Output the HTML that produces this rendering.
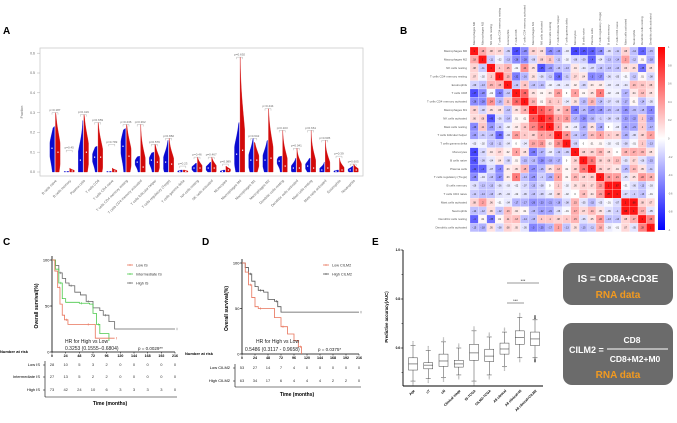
<!DOCTYPE html>
<html><head><meta charset="utf-8"><style>
html,body{margin:0;padding:0;background:#fff;width:677px;height:423px;overflow:hidden}
svg{display:block;font-family:"Liberation Sans",Arial,sans-serif}
</style></head><body>
<svg id="fig" width="677" height="423" viewBox="0 0 677 423">
<g id="panelA"></g>
<g id="panelB"></g>
<g id="panelC"></g>
<g id="panelD"></g>
<g id="panelE"></g>
<g>
<rect x="563" y="263" width="110" height="42" rx="9" fill="#6b6b6b"/>
<text x="618" y="282" text-anchor="middle" font-size="10" font-weight="bold" fill="#fff">IS = CD8A+CD3E</text>
<text x="618" y="298" text-anchor="middle" font-size="10" font-weight="bold" fill="#f39a1e">RNA data</text>
</g>
<g>
<rect x="563" y="323" width="110" height="62" rx="9" fill="#6b6b6b"/>
<text x="569" y="353" font-size="9" font-weight="bold" fill="#fff">CILM2 =</text>
<text x="632" y="343" text-anchor="middle" font-size="8.5" font-weight="bold" fill="#fff">CD8</text>
<line x1="607" y1="349" x2="668" y2="349" stroke="#fff" stroke-width="1"/>
<text x="635" y="362" text-anchor="middle" font-size="8.5" font-weight="bold" fill="#fff">CD8+M2+M0</text>
<text x="618" y="378" text-anchor="middle" font-size="10" font-weight="bold" fill="#f39a1e">RNA data</text>
</g>
<text x="3" y="34" font-size="10" font-weight="bold">A</text>
<text x="400" y="34" font-size="10" font-weight="bold">B</text>
<text x="3" y="245" font-size="10" font-weight="bold">C</text>
<text x="202" y="245" font-size="10" font-weight="bold">D</text>
<text x="372" y="245" font-size="10" font-weight="bold">E</text>
</svg>
<script>
const NS="http://www.w3.org/2000/svg";
// ---- Panel A data ----
const cellTypes=["B cells naive","B cells memory","Plasma cells","T cells CD8","T cells CD4 naive","T cells CD4 memory resting","T cells CD4 memory activated","T cells follicular helper","T cells regulatory (Tregs)","T cells gamma delta","NK cells resting","NK cells activated","Monocytes","Macrophages M0","Macrophages M1","Macrophages M2","Dendritic cells resting","Dendritic cells activated","Mast cells resting","Mast cells activated","Eosinophils","Neutrophils"];
const blueMax=[0.23,0.003,0.26,0.13,0.003,0.22,0.08,0.10,0.16,0.01,0.045,0.05,0.01,0.25,0.17,0.16,0.08,0.07,0.07,0.05,0.01,0.03];
const blueMed=[0.12,0.001,0.06,0.075,0.001,0.13,0.05,0.06,0.05,0.003,0.02,0.02,0.003,0.09,0.06,0.06,0.055,0.02,0.03,0.01,0.003,0.01];
const redMax=[0.30,0.02,0.29,0.25,0.02,0.24,0.24,0.14,0.17,0.01,0.075,0.075,0.03,0.58,0.15,0.32,0.21,0.12,0.21,0.16,0.07,0.04];
const redMed=[0.10,0.005,0.10,0.075,0.005,0.08,0.025,0.05,0.04,0.003,0.02,0.02,0.01,0.11,0.06,0.07,0.03,0.02,0.02,0.02,0.01,0.01];
const pLabels=["p=0.187","p=0.45","p=0.419","p=0.659","p=0.799","p=0.236","p=0.362","p=0.579","p=0.882","p=0.23","p=0.46","p=0.467","p=0.089","p=0.692","p=0.642","p=0.444","p=0.103","p=0.041","p=0.661","p=0.605","p=0.39","p=0.605"];
const bracketTop=[0.30,0.11,0.29,0.25,0.14,0.24,0.24,0.14,0.17,0.03,0.075,0.075,0.04,0.58,0.17,0.32,0.21,0.12,0.21,0.16,0.08,0.04];
const aTicks=[0,0.1,0.2,0.3,0.4,0.5,0.6];
// ---- Panel B data (upper triangle, row i lists cols i+1..21) ----
const hmLabels=["Macrophages M0","Macrophages M2","NK cells resting","T cells CD4 memory resting","Eosinophils","T cells CD8","T cells CD4 memory activated","Macrophages M1","NK cells activated","Mast cells resting","T cells follicular helper","T cells gamma delta","Monocytes","B cells naive","Plasma cells","T cells regulatory (Tregs)","B cells memory","T cells CD4 naive","Mast cells activated","Neutrophils","Dendritic cells resting","Dendritic cells activated"];
const hmUpper=[
[.18,.08,.07,-.09,-.47,-.28,.08,.06,-.29,-.23,-.03,-.49,-.45,-.42,-.28,-.06,-.11,.08,-.14,-.4,-.15],
[-.11,-.02,-.13,-.28,-.28,-.08,.08,.11,-.11,-.02,-.08,-.09,-.4,-.04,-.13,-.14,.2,-.12,.01,-.18],
[.1,.15,-.01,.24,.05,-.45,-.24,-.13,-.13,.04,-.04,-.07,-.13,-.13,-.13,.06,.06,-.35,.05],
[.15,-.32,-.16,.05,-.06,-.11,-.38,-.11,.07,.04,-.3,-.27,-.06,-.05,-.01,-.12,.01,-.08],
[-.12,.11,-.13,-.14,-.02,-.04,-.04,.02,-.08,.03,.03,-.03,-.04,-.04,.13,.11,.08],
[.36,.05,.01,.03,.21,0,.2,.01,.05,.3,-.02,-.02,-.17,.04,.13,.05],
[.16,.01,.11,.1,-.04,.05,-.15,.15,-.14,-.07,-.06,-.17,.01,-.14,-.05],
[.4,.27,.08,.19,-.33,-.15,-.27,-.25,-.15,-.13,-.26,-.15,-.15,-.3],
[.45,.2,.22,-.17,-.28,-.16,-.1,-.08,-.08,-.23,-.22,.1,-.25],
[.2,.03,-.03,-.19,.05,-.19,0,-.03,-.21,-.21,.1,-.17],
[.25,-.12,-.17,.13,.2,.1,.08,-.18,-.06,.08,.2],
[-.09,0,.01,.01,-.02,-.02,-.08,-.01,.1,-.13],
[.08,.08,.15,.05,0,.15,.17,.15,.05],
[.31,.08,.08,.13,-.05,.07,-.06,-.15],
[.09,.07,.04,-.15,.14,.05,-.11],
[.22,.21,-.05,.05,.22,.16],
[.87,-.01,-.06,-.13,-.03],
[-.07,-.1,-.13,-.01],
[.68,.08,.07],
[.17,-.05],
[.28]];
const cbTicks=[1,0.8,0.6,0.4,0.2,0,-0.2,-0.4,-0.6,-0.8,-1];
// ---- Panel C data ----
const kmTicks=[0,24,48,72,96,120,144,168,192,216];
const lowIST=[0,5,10,14,18,22,28,40,60,72,76,110];
const lowISS=[100,88,70,52,40,35,30,30,30,30,15,15];
const intIST=[0,6,12,18,24,48,66,72,78,84,100];
const intISS=[100,90,75,58,54,53,52,42,30,20,12];
const highIST=[0,6,12,18,24,30,40,50,60,72,84,90,100,110,216];
const highISS=[100,94,86,80,75,72,65,62,55,48,45,40,33,25,25];
const riskCLow=[28,10,5,3,2,0,0,0,0,0];
const riskCInt=[27,13,5,2,2,0,0,0,0,0];
const riskCHigh=[73,42,24,10,6,3,3,3,3,0];
// ---- Panel D data ----
const lowCT=[0,6,12,18,24,30,48,60,72,84,96,104,110];
const lowCS=[100,90,76,62,52,50,50,40,30,22,15,8,0];
const highCT=[0,6,12,18,24,30,40,48,60,66,72,216];
const highCS=[100,95,88,80,74,70,68,60,58,52,46,46];
const riskDLow=[53,27,14,7,4,0,0,0,0,0];
const riskDHigh=[63,34,17,6,4,4,4,2,2,0];
// ---- Panel E data ----
const eCats=["Age","cT","cN","Clinical stage","IS-TCGA","CILM2-TCGA","All clinical","All clinical+IS","All clinical+CILM2"];
const eMed=[0.535,0.53,0.547,0.535,0.58,0.567,0.596,0.642,0.637];
const eQ1=[0.51,0.515,0.525,0.522,0.55,0.545,0.575,0.615,0.61];
const eQ3=[0.56,0.54,0.575,0.55,0.615,0.595,0.62,0.67,0.665];
const eMin=[0.465,0.475,0.48,0.49,0.465,0.49,0.525,0.56,0.56];
const eMax=[0.61,0.59,0.625,0.6,0.67,0.645,0.665,0.725,0.715];
const eTicks=[0.6,0.8,1.0];

function el(tag,attrs,parent,text){const e=document.createElementNS(NS,tag);for(const k in attrs)e.setAttribute(k,attrs[k]);if(text!==undefined)e.textContent=text;parent.appendChild(e);return e;}

// ===== Panel A =====
(function(){
const g=document.getElementById('panelA');
const x0=55,dx=14.2,y0=172,ky=198;
const yA=v=>y0-v*ky, xA=i=>x0+i*dx;
const frame=el('rect',{x:40,y:48,width:323,height:128,fill:'none',stroke:'#ccc','stroke-width':0.8},g);

aTicks.forEach(t=>{const tx=el('text',{x:35,y:yA(t)+1.2,'font-size':3.5,fill:'#666','text-anchor':'end'},g,t.toFixed(1));

el('line',{x1:37,x2:40,y1:yA(t),y2:yA(t),stroke:'#999','stroke-width':0.4},g);});
const yt=el('text',{x:23,y:112,'font-size':3.5,fill:'#666','text-anchor':'middle',transform:'rotate(-90 23 112)'},g,'Fraction');

function violin(cx,max,med,dir,color){
 const W=4.6,s=Math.max(max*0.42,0.006);const N=30;let pts=[];
 for(let k=0;k<=N;k++){const v=max*k/N;let w=W*Math.exp(-Math.pow((v-med)/s,2))+1.2*(1-k/N);if(w>W)w=W;if(k==N)w=0.2;pts.push([cx+dir*w,yA(v)]);}
 let d=`M${cx},${yA(0)} `+pts.map(p=>`L${p[0].toFixed(2)},${p[1].toFixed(2)}`).join(' ')+` L${cx},${yA(max)} Z`;
 const p=el('path',{d:d,fill:color,stroke:color,'stroke-width':0.3},g);
 return p;}
cellTypes.forEach((name,i)=>{
 const c=xA(i);
 const pb=violin(c-0.5,blueMax[i],blueMed[i],-1,'#0a0ad0');
 const pr=violin(c+0.5,redMax[i],redMed[i],1,'#d20a0a');
 el('rect',{x:c-3.6,y:yA(blueMed[i])-0.6,width:1.2,height:1.2,fill:'#fff'},g);
 el('rect',{x:c+2.4,y:yA(redMed[i])-0.6,width:1.2,height:1.2,fill:'#fff'},g);
 const bt=yA(bracketTop[i]);
 el('path',{d:`M${c-3},${bt+2} L${c-3},${bt} L${c+3},${bt} L${c+3},${bt+2}`,fill:'none',stroke:'#999','stroke-width':0.35},g);
 const pt=el('text',{x:c,y:bt-1.5,'font-size':3,fill:'#666','text-anchor':'middle'},g,pLabels[i]);
 
 const lt=el('text',{x:c+2,y:181,'font-size':3.5,fill:'#666','text-anchor':'end',transform:`rotate(-45 ${c+2} 181)`},g,name);
 
});
})();

// ===== Panel B =====
(function(){
const g=document.getElementById('panelB');
const gx=470,gy=47,cs=8.4,n=hmLabels.length;
function val(i,j){if(i==j)return 1;const a=Math.min(i,j),b=Math.max(i,j);return hmUpper[a][b-a-1];}
function col(v){const t=Math.pow(Math.min(1,Math.abs(v)*1.7),0.85);let r,gg,b;if(v>=0){r=255;gg=255*(1-t)+20*t;b=255*(1-t)+20*t;}else{r=255*(1-t)+40*t;gg=255*(1-t)+40*t;b=255;}return `rgb(${r|0},${gg|0},${b|0})`;}
for(let i=0;i<n;i++){
 const rl=el('text',{x:gx-3,y:gy+i*cs+cs/2+1,'font-size':3,fill:'#555','text-anchor':'end'},g,hmLabels[i]);
 
 const cx=gx+i*cs+cs/2+1;
 const cl=el('text',{x:cx,y:gy-2,'font-size':3,fill:'#555',transform:`rotate(-90 ${cx} ${gy-2})`},g,hmLabels[i]);
 
 for(let j=0;j<n;j++){const v=val(i,j);
  const r=el('rect',{x:gx+j*cs,y:gy+i*cs,width:cs,height:cs,fill:col(v),stroke:'#fff','stroke-width':0.2},g);
  
  el('text',{x:gx+j*cs+cs/2,y:gy+i*cs+cs/2+1,'font-size':2.4,fill:'#222','text-anchor':'middle'},g,i==j?'1':String(v).replace('0.','.'));
 }}
const defs=el('defs',{},g);const lg=el('linearGradient',{id:'cbg',x1:0,y1:0,x2:0,y2:1},defs);
el('stop',{offset:'0%','stop-color':'#ff0000'},lg);el('stop',{offset:'50%','stop-color':'#ffffff'},lg);el('stop',{offset:'100%','stop-color':'#0000ff'},lg);
const cb=el('rect',{x:658,y:47,width:7,height:183,fill:'url(#cbg)'},g);

cbTicks.forEach(t=>{const y=47+(1-t)/2*183;el('text',{x:668,y:y+1,'font-size':2.6,fill:'#666'},g,String(t));});
})();

// ===== KM helper =====
function km(g,ox,oy,x216,top,T,S,color,name){
 const xs=t=>ox+t/216*(x216-ox), ys=s=>oy-s/100*(oy-top);
 let d=`M${xs(T[0])},${ys(S[0])}`;
 for(let k=1;k<T.length;k++){d+=` L${xs(T[k]).toFixed(2)},${ys(S[k-1]).toFixed(2)} L${xs(T[k]).toFixed(2)},${ys(S[k]).toFixed(2)}`;}
 const p=el('path',{d:d,fill:'none',stroke:color,'stroke-width':0.8},g);
 
 for(let k=2;k<T.length;k+=3){el('line',{x1:xs(T[k])+2,x2:xs(T[k])+2,y1:ys(S[k])-1.2,y2:ys(S[k])+1.2,stroke:color,'stroke-width':0.5},g);}
}
function kmAxes(g,ox,oy,x216,top){
 el('line',{x1:ox,y1:top-4,x2:ox,y2:oy,stroke:'#000','stroke-width':0.8},g);
 el('line',{x1:ox,y1:oy,x2:x216,y2:oy,stroke:'#000','stroke-width':0.8},g);
 [0,50,100].forEach(v=>{const y=oy-v/100*(oy-top);el('line',{x1:ox-2,x2:ox,y1:y,y2:y,stroke:'#000','stroke-width':0.6},g);
  const t=el('text',{x:ox-2.5,y:y+1.5,'font-size':4,'text-anchor':'end'},g,String(v));});
 kmTicks.forEach(t=>{const x=ox+t/216*(x216-ox);el('line',{x1:x,x2:x,y1:oy,y2:oy+1.5,stroke:'#000','stroke-width':0.5},g);
  const tx=el('text',{x:x,y:oy+5,'font-size':3.6,'font-weight':'bold','text-anchor':'middle'},g,String(t));});
 const yl=el('text',{x:ox-14,y:(top+oy)/2,'font-size':5,'font-weight':'bold','text-anchor':'middle',transform:`rotate(-90 ${ox-14} ${(top+oy)/2})`},g,'Overall survival(%)');
 
}
function riskTable(g,ox,x216,rowsY,labels,data,lineX,bottomY,titleY,labelX){
 const xs=t=>ox+t/216*(x216-ox);
 el('line',{x1:lineX,x2:lineX,y1:rowsY[0]-5,y2:bottomY,stroke:'#000','stroke-width':0.6},g);
 el('line',{x1:lineX,x2:x216+2,y1:bottomY,y2:bottomY,stroke:'#000','stroke-width':0.6},g);
 rowsY.forEach((y,r)=>{el('line',{x1:lineX-2,x2:lineX,y1:y-1,y2:y-1,stroke:'#000','stroke-width':0.5},g);
  const lb=el('text',{x:labelX,y:y,'font-size':4,'text-anchor':'end'},g,labels[r]);
  data[r].forEach((v,k)=>{el('text',{x:xs(kmTicks[k]),y:y,'font-size':4,'text-anchor':'middle',fill:'#333'},g,String(v));});});
 const tt=el('text',{x:(lineX+x216)/2,y:titleY,'font-size':5,'font-weight':'bold','text-anchor':'middle'},g,'Time (months)');
 
}
function legend(g,x,y,color,label){el('line',{x1:x,x2:x+6,y1:y,y2:y,stroke:color,'stroke-width':0.8},g);el('line',{x1:x+3,x2:x+3,y1:y-1,y2:y+1,stroke:color,'stroke-width':0.5},g);
 const t=el('text',{x:x+9,y:y+1.3,'font-size':3.8,fill:'#333'},g,label);}

// ===== Panel C =====
(function(){
const g=document.getElementById('panelC');const ox=52,oy=352,x216=175,top=260;
kmAxes(g,ox,oy,x216,top);
km(g,ox,oy,x216,top,highIST,highISS,'#666','km-high-is');
km(g,ox,oy,x216,top,intIST,intISS,'#4cc94c','km-intermediate-is');
km(g,ox,oy,x216,top,lowIST,lowISS,'#e8735a','km-low-is');
legend(g,127,265,'#e8735a','Low IS');legend(g,127,274,'#4cc94c','Intermediate IS');legend(g,127,283,'#666','High IS');
el('text',{x:65,y:343,'font-size':5,fill:'#222'},g,'HR  for High vs Low');
el('text',{x:65,y:350,'font-size':5,fill:'#222'},g,'0.3253  (0.1555−0.6804)');
el('text',{x:138,y:350,'font-size':4.5,fill:'#222'},g,'p = 0.0029**');
el('text',{x:0,y:353,'font-size':4,'font-weight':'bold'},g,'Number at risk');
riskTable(g,ox,x216,[366,378,391],['Low IS','Intermediate IS','High IS'],[riskCLow,riskCInt,riskCHigh],45,397,405,40);
})();

// ===== Panel D =====
(function(){
const g=document.getElementById('panelD');const ox=242,oy=354,x216=359,top=263;
kmAxes(g,ox,oy,x216,top);
km(g,ox,oy,x216,top,highCT,highCS,'#555','km-high-cilm2');
km(g,ox,oy,x216,top,lowCT,lowCS,'#e8735a','km-low-cilm2');
legend(g,323,265,'#e8735a','Low CILM2');legend(g,323,274,'#555','High CILM2');
el('text',{x:256,y:343,'font-size':5,fill:'#222'},g,'HR for High vs Low');
el('text',{x:245,y:351,'font-size':5,fill:'#222'},g,'0.5486 (0.3117 - 0.9658)');
el('text',{x:318,y:351,'font-size':4.5,fill:'#222'},g,'p = 0.0375*');
el('text',{x:185,y:355,'font-size':4,'font-weight':'bold'},g,'Number at risk');
riskTable(g,ox,x216,[369,382],['Low CILM2','High CILM2'],[riskDLow,riskDHigh],235,387,396,230);
})();

// ===== Panel E =====
(function(){
const g=document.getElementById('panelE');
const ax=403,y08=299,kk=245,x0=413,dx=15.25;
const yE=v=>y08-(v-0.8)*kk, xE=i=>x0+i*dx;
el('line',{x1:ax,x2:ax,y1:yE(1.0),y2:386,stroke:'#000','stroke-width':0.9},g);
el('line',{x1:ax,x2:543,y1:386,y2:386,stroke:'#000','stroke-width':0.9},g);
[0.5,0.7,0.9].forEach(t=>el('line',{x1:ax-1.5,x2:ax,y1:yE(t),y2:yE(t),stroke:'#000','stroke-width':0.5},g));
eTicks.forEach(t=>{el('line',{x1:ax-2.5,x2:ax,y1:yE(t),y2:yE(t),stroke:'#000','stroke-width':0.6},g);
 const tx=el('text',{x:ax-3,y:yE(t)+1.2,'font-size':3.2,'font-weight':'bold','text-anchor':'end'},g,t.toFixed(1));});
const yt=el('text',{x:388,y:317,'font-size':4.2,'font-weight':'bold','text-anchor':'middle',transform:'rotate(-90 388 317)'},g,'Predictive accuracy(AUC)');

eCats.forEach((c,i)=>{const x=xE(i),w=4.5;
 el('line',{x1:x,x2:x,y1:yE(eMax[i]),y2:yE(eMin[i]),stroke:'#444','stroke-width':0.5},g);
 el('line',{x1:x-2.5,x2:x+2.5,y1:yE(eMax[i]),y2:yE(eMax[i]),stroke:'#444','stroke-width':0.5},g);
 el('line',{x1:x-2.5,x2:x+2.5,y1:yE(eMin[i]),y2:yE(eMin[i]),stroke:'#444','stroke-width':0.5},g);
 const b=el('rect',{x:x-w,y:yE(eQ3[i]),width:2*w,height:yE(eQ1[i])-yE(eQ3[i]),fill:'#fff',stroke:'#444','stroke-width':0.5},g);
 
 el('line',{x1:x-w,x2:x+w,y1:yE(eMed[i]),y2:yE(eMed[i]),stroke:'#444','stroke-width':0.6},g);
 const oc=i>=8?'#222':'#bbb';
 for(let k=1;k<=3;k++){el('circle',{cx:x,cy:yE(eMax[i])-k*1.3,r:0.7,fill:oc},g);el('circle',{cx:x,cy:yE(eMin[i])+k*1.3,r:0.7,fill:oc},g);}
 const lt=el('text',{x:x+2,y:391,'font-size':3.4,'font-weight':'bold','text-anchor':'end',transform:`rotate(-45 ${x+2} 391)`},g,c);
 });
el('line',{x1:507,x2:539,y1:283,y2:283,stroke:'#333','stroke-width':0.5},g);
el('text',{x:523,y:282,'font-size':4,'text-anchor':'middle'},g,'***');
el('line',{x1:507,x2:524,y1:303,y2:303,stroke:'#333','stroke-width':0.5},g);
el('text',{x:515.5,y:302,'font-size':4,'text-anchor':'middle'},g,'***');
})();
</script>
</body></html>
